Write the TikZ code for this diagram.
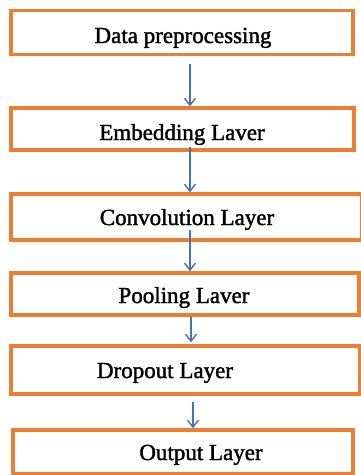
\documentclass[tikz,border=0pt]{standalone}
\usepackage{fontspec}
\setmainfont{Liberation Serif}[FakeBold=1.6]
\usetikzlibrary{arrows.meta}
\definecolor{boxorange}{RGB}{237,125,49}
\definecolor{arrowblue}{RGB}{68,114,180}
\tikzset{
  layerbox/.style={draw=boxorange, line width=3.5pt, rectangle, inner sep=0pt},
  layertext/.style={anchor=base, inner sep=0pt, font=\fontsize{23}{27}\selectfont},
  flow/.style={draw=arrowblue, line width=1.4pt, -{Straight Barb[length=7pt,width=11pt]}}
}
\begin{document}
\begin{tikzpicture}[x=1pt, y=-1pt]
  \useasboundingbox (0,0) rectangle (360,475);

  % stage frames
  \node[layerbox, minimum width=342pt, minimum height=44pt] (b1) at (182,32.5) {};
  \node[layerbox, minimum width=343pt, minimum height=42pt] (b2) at (182.5,129) {};
  \node[layerbox, minimum width=351pt, minimum height=46pt] (b3) at (186.5,217) {};
  \node[layerbox, minimum width=348pt, minimum height=42pt] (b4) at (185,294) {};
  \node[layerbox, minimum width=349pt, minimum height=48pt] (b5) at (185.5,370) {};
  \node[layerbox, minimum width=340pt, minimum height=44pt] (b6) at (183,452) {};

  % stage labels
  \node[layertext] (t1) at (183,43) {Data preprocessing};
  \node[layertext] (t2) at (182,140) {Embedding Laver};
  \node[layertext] (t3) at (187,225) {Convolution Layer};
  \node[layertext] (t4) at (184,303) {Pooling Laver};
  \node[layertext] (t5) at (165,378) {Dropout Layer};
  \node[layertext] (t6) at (201,460) {Output Layer};

  % flow between stages
  \draw[flow] ([xshift=8pt,yshift=-8pt]b1.south) -- ([xshift=7.5pt]b2.north);
  \draw[flow] ([xshift=7.5pt,yshift=5pt]b2.south) -- ([xshift=3.5pt]b3.north);
  \draw[flow] ([xshift=3.5pt,yshift=12pt]b3.south) -- ([xshift=5pt]b4.north);
  \draw[flow] ([xshift=6pt]b4.south) -- ([xshift=5.5pt,yshift=2pt]b5.north);
  \draw[flow] ([xshift=7.5pt,yshift=-6pt]b5.south) -- ([xshift=10pt]b6.north);
\end{tikzpicture}
\end{document}
